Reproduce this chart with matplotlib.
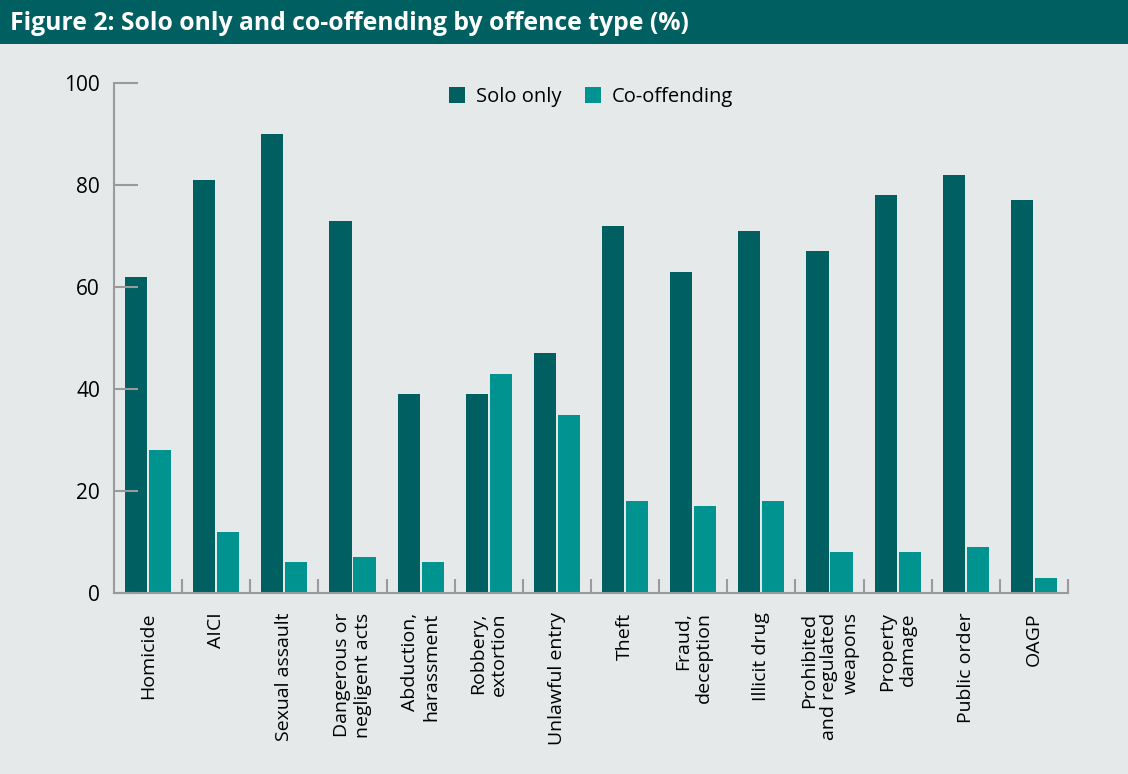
import matplotlib.pyplot as plt
import numpy as np
from matplotlib.patches import Rectangle

plt.rcParams['font.family'] = ['Open Sans', 'DejaVu Sans']

# offence types and shares (%)
offences = ['Homicide', 'AICI', 'Sexual assault', 'Dangerous or\nnegligent acts',
            'Abduction,\nharassment', 'Robbery,\nextortion', 'Unlawful entry', 'Theft',
            'Fraud,\ndeception', 'Illicit drug', 'Prohibited\nand regulated\nweapons',
            'Property\ndamage', 'Public order', 'OAGP']
solo_only = [62, 81, 90, 73, 39, 39, 47, 72, 63, 71, 67, 78, 82, 77]
co_offending = [28, 12, 6, 7, 6, 43, 35, 18, 17, 18, 8, 8, 9, 3]

dark_teal = '#005f61'
light_teal = '#00938f'
bg = '#e5e9ea'
axis_grey = '#9a9a9a'

fig = plt.figure(figsize=(11.28, 7.74), dpi=100, facecolor=bg)

# header band
fig.patches.append(Rectangle((0, 1 - 44 / 774), 1, 44 / 774, transform=fig.transFigure,
                             facecolor=dark_teal, edgecolor='none', zorder=0))
fig.text(10 / 1128, 1 - 23 / 774, 'Figure 2: Solo only and co-offending by offence type (%)',
         color='white', fontsize=17.8, fontweight='bold', va='center', ha='left')

ax = fig.add_axes([114 / 1128, 181 / 774, 954 / 1128, 510 / 774])
ax.set_facecolor(bg)

x = np.arange(len(offences))
w = 0.324
ax.bar(x - 0.176, solo_only, w, color=dark_teal, label='Solo only')
ax.bar(x + 0.176, co_offending, w, color=light_teal, label='Co-offending')

ax.set_xlim(-0.5, len(offences) - 0.5)
ax.set_ylim(0, 100)

for s in ['top', 'right']:
    ax.spines[s].set_visible(False)
for s in ['left', 'bottom']:
    ax.spines[s].set_color(axis_grey)
    ax.spines[s].set_linewidth(1.5)

ax.set_yticks([0, 20, 40, 60, 80, 100])
ax.tick_params(axis='y', direction='in', length=17, width=1.5, color=axis_grey,
               labelsize=15, pad=10)

ax.set_xticks(x)
ax.set_xticklabels(offences, rotation=90, ha='center', va='top',
                   multialignment='right', fontsize=14)
ax.tick_params(axis='x', which='major', length=0, pad=14)
ax.set_xticks(np.arange(len(offences)) + 0.5, minor=True)
ax.tick_params(axis='x', which='minor', direction='in', length=10, width=1.5,
               color=axis_grey)

ax.legend(loc='upper center', bbox_to_anchor=(0.5, 1.028), ncol=2, frameon=False,
          fontsize=14.5, handlelength=0.8, handleheight=0.8, handletextpad=0.5,
          columnspacing=1.2)

fig.savefig('out.png', dpi=100, facecolor=bg)
